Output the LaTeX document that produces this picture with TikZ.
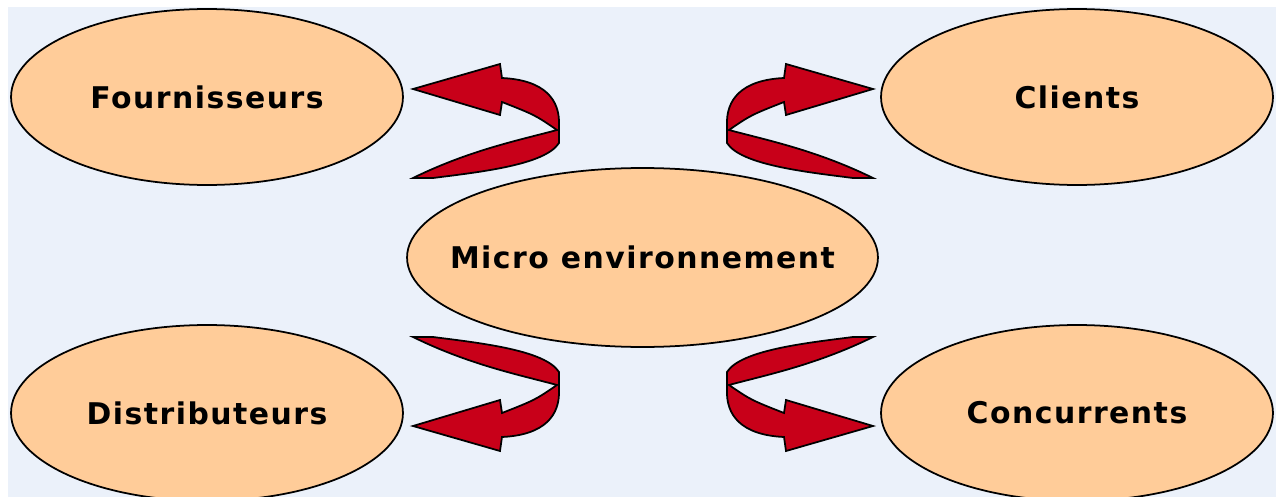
\documentclass[tikz,border=0pt]{standalone}
\usepackage{fontspec}
\setmainfont{DejaVu Sans}
\usetikzlibrary{shapes.geometric}
\definecolor{peach}{RGB}{255,204,153}
\definecolor{arrowred}{RGB}{200,0,25}
\definecolor{backblue}{RGB}{235,241,250}
\tikzset{
  actor/.style={ellipse, draw=black, line width=1pt, fill=peach, inner sep=0pt,
    minimum width=7.84cm, minimum height=3.52cm},
  core/.style={actor, minimum width=9.42cm, minimum height=3.58cm},
  actortext/.style={inner sep=0pt,
    font=\bfseries\fontsize{17}{20}\selectfont\addfontfeature{LetterSpace=5}},
  turnarrow/.pic={
    \filldraw[fill=arrowred, draw=black, line width=1pt]
      (-230,-79.5) .. controls (-173,-107.5) and (-123,-117.5) .. (-86,-127.5)
      .. controls (-108,-142.5) .. (-141,-155.5) -- (-143,-142.5) -- (-230,-168.5)
      -- (-143,-193.5) -- (-141,-179.5) .. controls (-98,-177.5) and (-83,-157.5) .. (-84,-132.5)
      -- (-84,-114.5) .. controls (-98,-92.5) and (-163,-85.5) .. (-210,-79.5) -- cycle;
  }
}
\begin{document}
\begin{tikzpicture}[x=0.02cm, y=-0.02cm]
  \useasboundingbox (0,0) rectangle (1276,497);
  \clip (0,0) rectangle (1276,497);
  \fill[white] (0,0) rectangle (1276,497);
  \fill[backblue] (8,7) rectangle (1276,497);
  % les cinq acteurs
  \node[core,  label={[actortext]center:Micro environnement}] (M) at (642.5,257.5) {};
  \node[actor, label={[actortext]center:Fournisseurs}]  (F) at (207,97)  {};
  \node[actor, label={[actortext]center:Clients}]       (C) at (1077,97) {};
  \node[actor, label={[actortext]center:Distributeurs}] (D) at (207,413) {};
  \node[actor, label={[actortext]center:Concurrents}]   (K) at (1077,413) {};
  % fleches en demi-tour
  \pic at (643,257.5) {turnarrow};
  \pic[xscale=-1] at (643,257.5) {turnarrow};
  \pic[yscale=-1] at (643,257.5) {turnarrow};
  \pic[xscale=-1, yscale=-1] at (643,257.5) {turnarrow};
\end{tikzpicture}
\end{document}
